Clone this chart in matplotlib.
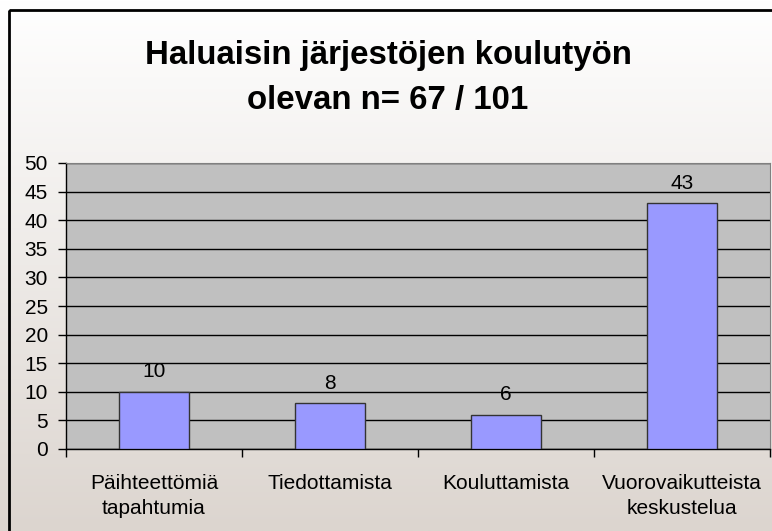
import numpy as np
import matplotlib

matplotlib.use("Agg")
import matplotlib.pyplot as plt
from matplotlib.patches import Rectangle

# ---- data ----------------------------------------------------------------
categories = ["Päihteettömiä\ntapahtumia", "Tiedottamista", "Kouluttamista",
              "Vuorovaikutteista\nkeskustelua"]
values = [10, 8, 6, 43]
title = "Haluaisin järjestöjen koulutyön\nolevan n= 67 / 101"

plt.rcParams.update({
    "font.family": ["Liberation Sans", "DejaVu Sans"],
    "font.size": 15,
})

W, H = 772, 531
fig = plt.figure(figsize=(W / 100, H / 100), dpi=100)

# background gradient: white at top to light taupe at bottom
bg = fig.add_axes([0, 0, 1, 1], zorder=0)
top = np.array([1.0, 1.0, 1.0])
bot = np.array([0xDC, 0xD5, 0xCF]) / 255.0
t = np.linspace(0, 1, 256)[:, None]
grad = (top * (1 - t) + bot * t)[:, None, :]
bg.imshow(grad, aspect="auto", extent=[0, W, H, 0])
bg.set_xlim(0, W)
bg.set_ylim(H, 0)
bg.add_patch(Rectangle((8.5, 10), W, H, fill=False, edgecolor="black", lw=2.0))
bg.axis("off")

# title
fig.text(388 / W, 1 - 78 / H, title, ha="center", va="center",
         fontsize=23.8, fontweight="bold", linespacing=1.62, zorder=2)

# plot area
x0, x1, y0, y1 = 66, 770, 163, 449
ax = fig.add_axes([x0 / W, 1 - y1 / H, (x1 - x0) / W, (y1 - y0) / H], zorder=1)
ax.set_facecolor("#C0C0C0")
x = np.arange(len(values))
ax.bar(x, values, width=0.4, color="#9999FF", edgecolor="#333333", lw=1.0,
       zorder=3)
for xi, v in zip(x, values):
    ax.annotate(str(v), (xi, v), xytext=(0, 7.5), textcoords="offset points",
                ha="center", va="bottom", fontsize=15)

ax.set_xlim(-0.5, len(values) - 0.5)
ax.set_ylim(0, 50)
ax.set_yticks(np.arange(0, 51, 5))
ax.yaxis.grid(True, color="black", lw=1.0, zorder=1)
ax.set_axisbelow(True)
ax.set_xticks(x)
ax.set_xticklabels(categories, linespacing=1.42)
ax.set_xticks(np.arange(-0.5, len(values)), minor=True)
ax.tick_params(axis="x", which="major", length=0, pad=18)
ax.tick_params(axis="x", which="minor", length=6, width=1.0)
ax.tick_params(axis="y", length=6, width=1.0, pad=7, labelsize=15)

for s in ("top", "right"):
    ax.spines[s].set_color("#808080")
for s in ("left", "bottom"):
    ax.spines[s].set_color("black")
    ax.spines[s].set_linewidth(1.0)

fig.savefig("out.png", dpi=100)
